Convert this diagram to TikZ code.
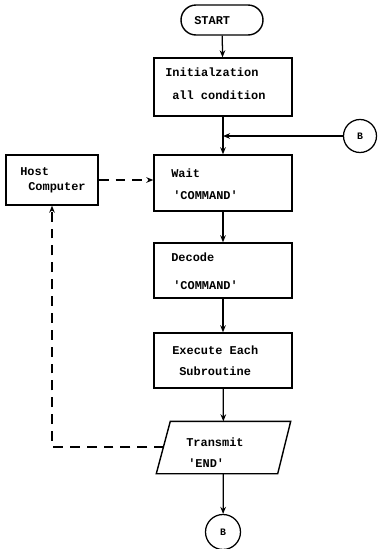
\documentclass[tikz,border=0pt]{standalone}
\usepackage{fontspec}
\setmonofont{Liberation Mono}
\usepackage{tikz}
\usetikzlibrary{arrows.meta, shapes.misc}
\newdimen\px \px=0.025cm

\begin{document}
\begin{tikzpicture} [x=\px, y=-\px,
	box/.style={draw, line width=1pt, minimum width=138\px, minimum height=55\px, inner sep=0pt},
	txt/.style={anchor=west, inner sep=0pt, font=\ttfamily\bfseries\fontsize{8.5}{10}\selectfont},
	conn/.style={circle, draw, line width=0.9pt, minimum size=33\px, inner sep=0pt,
		font=\ttfamily\bfseries\fontsize{7}{8}\selectfont},
	flow/.style={line width=0.9pt, -{Stealth[length=5pt, width=4pt]}},
	link/.style={flow, dash pattern=on 7pt off 5pt}]
	%    flow chart
	\useasboundingbox (0,0) rectangle (384,549);
	
	\node[box, rounded rectangle, minimum width=82\px, minimum height=30\px] (start) at (222,20) {};
	\node[box, minimum height=58\px] (init) at (223,87) {};
	\node[box, minimum height=56\px] (wait) at (223,183) {};
	\node[box, minimum width=92\px, minimum height=50\px] (host) at (52,180) {};
	\node[box] (decode) at (223,270.5) {};
	\node[box] (exec) at (223,360.5) {};
	\node[box, draw=none, minimum width=133\px, minimum height=51\px] (trans) at (223.5,447.5) {};
	\draw[line width=1pt] ([xshift=14\px]trans.north west) -- (trans.north east)
		-- ([xshift=-13\px]trans.south east) -- (trans.south west) -- cycle;
	\coordinate (transL) at (164,447);
	\node[conn] (bR) at (360,136) {B};
	\node[conn, minimum size=35\px] (bB) at (223,532) {B};
	\coordinate (join) at (223,136);
	
	% texts
	\node[txt] (tStart) at (194,21) {START};
	\node[txt] (tInit1) at (165,72) {Initialzation};
	\node[txt] (tInit2) at (172,95) {all condition};
	\node[txt] (tWait1) at (171,173) {Wait};
	\node[txt] (tWait2) at (173,195) {\textquotesingle COMMAND\textquotesingle};
	\node[txt] (tHost1) at (20,172) {Host};
	\node[txt] (tHost2) at (28,188) {Computer};
	\node[txt] (tDec1) at (171,257) {Decode};
	\node[txt] (tDec2) at (173,285) {\textquotesingle COMMAND\textquotesingle};
	\node[txt] (tExe1) at (172,350) {Execute Each};
	\node[txt] (tExe2) at (179,371) {Subroutine};
	\node[txt] (tTr1) at (186,442) {Transmit};
	\node[txt] (tTr2) at (188,463) {\textquotesingle END\textquotesingle};
	
	% connectors
	\draw[flow] (start) -- (init);
	\draw[flow] (init) -- (wait);
	\draw[flow] (bR) -- (join);
	\draw[flow] (wait) -- (decode);
	\draw[flow] (decode) -- (exec);
	\draw[flow] (exec) -- (trans);
	\draw[flow] (trans) -- (bB);
	\draw[link] (host.east) -- (host.east -| wait.west);
	\draw[link] (transL) -| (host.south);
	
\end{tikzpicture}
\end{document}
